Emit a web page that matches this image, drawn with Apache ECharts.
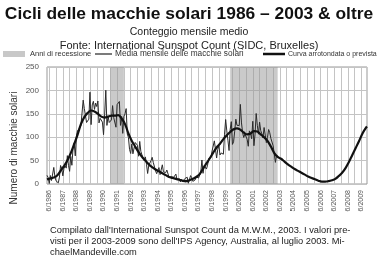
<!DOCTYPE html>
<html>
<head>
<meta charset="utf-8">
<script src="https://cdn.jsdelivr.net/npm/echarts@6/dist/echarts.min.js"></script>
<style>html,body{margin:0;padding:0;background:#fff}#c{width:378px;height:260px}</style>
</head>
<body>
<div id="c"></div>
<script>
// ---- Data ----
var startYear = 1986, startMonth = 4, endYear = 2009, endMonth = 11;
var tickLabels = ['6/1986','6/1987','6/1988','6/1989','6/1990','6/1991','6/1992','6/1993','6/1994','6/1995','6/1996','6/1997','6/1998','6/1999','6/2000','6/2001','6/2002','6/2003','5/2004','6/2005','6/2006','6/2007','6/2008','6/2009'];
var yTicks = [0, 50, 100, 150, 200, 250];
// Monthly mean sunspot number, from 1986-04 to 2003-05
var monthlyValues = [
  18.5, 13.7, 1.1, 18.1, 7.4, 3.8, 35.4, 15.2, 6.8,
  10.4, 2.4, 14.7, 39.6, 33.0, 17.4, 33.0, 38.7, 33.9, 60.6, 39.9, 27.1,
  59.0, 40.0, 76.2, 88.0, 60.1, 101.8, 113.8, 111.6, 120.1, 125.1, 125.1, 179.2,
  161.3, 165.0, 131.4, 130.6, 138.5, 196.2, 126.9, 168.9, 176.7, 159.4, 173.0, 165.5,
  177.3, 130.5, 140.3, 140.3, 132.2, 105.4, 149.4, 200.3, 125.2, 145.5, 131.4, 129.7,
  136.9, 167.5, 141.9, 140.0, 121.3, 169.7, 173.7, 176.3, 125.3, 144.1, 108.2, 144.4,
  150.0, 161.1, 106.7, 99.8, 73.8, 65.2, 85.7, 64.5, 63.9, 88.7, 91.8, 82.6,
  59.3, 91.0, 69.8, 62.2, 61.3, 49.8, 57.9, 42.1, 22.5, 39.8, 37.7, 50.0,
  57.0, 46.0, 44.0, 28.0, 22.0, 26.0, 35.0, 20.0, 22.0, 41.0, 26.0, 26.0,
  24.2, 29.9, 31.1, 14.0, 14.5, 15.6, 14.5, 14.3, 11.8, 21.1, 9.0, 10.0,
  11.5, 4.4, 9.2, 4.8, 5.5, 11.8, 8.2, 14.4, 1.6, 0.9, 17.9, 13.3,
  5.7, 7.6, 8.7, 15.5, 18.5, 12.7, 10.4, 24.4, 51.3, 22.8, 39.0, 41.2,
  31.9, 40.3, 54.8, 53.4, 56.3, 70.7, 66.6, 92.2, 92.2, 55.5, 74.0, 81.9,
  62.0, 66.3, 68.8, 63.7, 106.4, 137.7, 113.5, 93.7, 71.5, 116.7, 133.2, 84.6,
  90.1, 112.9, 138.5, 125.5, 121.6, 124.9, 170.1, 130.5, 109.7, 99.4, 106.8, 104.4,
  95.6, 80.6, 113.5, 107.7, 96.6, 134.0, 81.8, 106.4, 150.7, 125.5, 106.5, 132.2,
  114.1, 107.4, 98.4, 120.7, 120.8, 88.3, 99.6, 116.4, 109.6, 97.5, 95.0, 81.6,
  79.5, 46.2, 61.5, 60.0, 55.2
];
// Smoothed / predicted curve
var smoothMonths = ['1986-04','1986-07','1986-10','1987-01','1987-04','1987-07','1987-10','1988-01','1988-04','1988-07','1988-10','1989-01','1989-04','1989-07','1989-10','1990-01','1990-04','1990-07','1990-10','1991-01','1991-04','1991-07','1991-10','1992-01','1992-04','1992-07','1992-10','1993-01','1993-04','1993-07','1993-10','1994-01','1994-04','1994-07','1994-10','1995-01','1995-04','1995-07','1995-10','1996-01','1996-04','1996-07','1996-10','1997-01','1997-04','1997-07','1997-10','1998-01','1998-04','1998-07','1998-10','1999-01','1999-04','1999-07','1999-10','2000-01','2000-04','2000-07','2000-10','2001-01','2001-04','2001-07','2001-10','2002-01','2002-04','2002-07','2002-10','2003-01','2003-04','2003-07','2003-10','2004-01','2004-04','2004-07','2004-10','2005-01','2005-04','2005-07','2005-10','2006-01','2006-04','2006-07','2006-10','2007-01','2007-04','2007-07','2007-10','2008-01','2008-04','2008-07','2008-10','2009-01','2009-04','2009-07','2009-10','2009-11'];
var smoothValues = [10,12,14,18,28,38,50,66,85,105,128,143,152,157,155,150,144,142,144,146,146,147,140,128,108,92,80,68,58,50,42,36,31,27,23,19,15,13,11,9,7,6,8,11,15,21,33,44,55,67,78,86,96,104,111,117,119,116,110,106,108,113,112,106,100,92,80,66,58,54,48,42,37,32,28,24,20,16,13,10,7,5,5,6,8,11,17,24,34,47,62,77,92,108,120,123];
// Recession periods
var recessions = [['1990-12','1991-12'], ['1999-10','2003-04']];

// ---- Build ----
function pad(n){return n<10?'0'+n:''+n;}
var months = [];
for (var y = startYear, m = startMonth; y < endYear || (y === endYear && m <= endMonth); ) {
  months.push(y + '-' + pad(m));
  m++; if (m > 12) { m = 1; y++; }
}
var monthlyData = monthlyValues.map(function(v, i){ return [months[i], v]; });
var smoothData = smoothMonths.map(function(mm, i){ return [mm, smoothValues[i]]; });
var labelMap = {};
tickLabels.forEach(function(t, i){ labelMap[(startYear + i) + '-06'] = t; });

var chart = echarts.init(document.getElementById('c'), null, {renderer: 'canvas'});
var font = 'Liberation Sans';
chart.setOption({
  animation: false,
  backgroundColor: '#fff',
  title: [
    {text: 'Cicli delle macchie solari 1986 – 2003 & oltre', left: 'center', top: 1,
     textStyle: {fontFamily: font, fontSize: 17.4, fontWeight: 'bold', color: '#111'}},
    {text: 'Conteggio mensile medio', left: 'center', top: 22,
     textStyle: {fontFamily: font, fontSize: 10.5, fontWeight: 'normal', color: '#222'}},
    {text: 'Fonte: International Sunspot Count (SIDC, Bruxelles)', left: 'center', top: 35,
     textStyle: {fontFamily: font, fontSize: 11, fontWeight: 'normal', color: '#222'}}
  ],
  grid: {left: 47, right: 11, top: 67, bottom: 76, show: true, borderColor: '#999', borderWidth: 1, backgroundColor: '#fff'},
  xAxis: {
    type: 'category', data: months, boundaryGap: false,
    axisLine: {show: false}, axisTick: {show: false},
    axisLabel: {
      interval: function(i, v){ return v.slice(5) === '06'; },
      rotate: 90, fontSize: 7, color: '#555', fontFamily: font, margin: 6,
      formatter: function(v){ return labelMap[v] || ''; }
    },
    splitLine: {show: true, interval: function(i, v){ var mm = v.slice(5); return mm === '06' || mm === '12'; },
      lineStyle: {color: '#c4c4c4', width: 1}}
  },
  yAxis: {
    type: 'value', min: yTicks[0], max: yTicks[yTicks.length-1], interval: 50,
    axisLine: {show: false}, axisTick: {show: false},
    axisLabel: {fontSize: 8, color: '#555', fontFamily: font, margin: 8},
    splitLine: {show: true, lineStyle: {color: '#c4c4c4', width: 1}}
  },
  series: [
    {name: 'Anni di recessione', type: 'line', data: [], silent: true,
     markArea: {silent: true, itemStyle: {color: 'rgba(150,150,150,0.5)'},
       data: recessions.map(function(r){ return [{xAxis: r[0]}, {xAxis: r[1]}]; })}},
    {name: 'Media mensile delle macchie solari', type: 'line', data: monthlyData, symbol: 'none',
     lineStyle: {color: '#2a2a2a', width: 1}, z: 3},
    {name: 'Curva arrotondata o prevista', type: 'line', data: smoothData, symbol: 'none', smooth: 0.4,
     lineStyle: {color: '#111', width: 2.2}, z: 4}
  ],
  graphic: [
    {type: 'rect', shape: {x: 3, y: 51, width: 22, height: 6}, style: {fill: '#c8c8c8'}},
    {type: 'text', x: 30, y: 54, style: {text: 'Anni di recessione', fontFamily: font, fontSize: 7.5, fill: '#333', verticalAlign: 'middle'}},
    {type: 'line', shape: {x1: 95, y1: 54, x2: 112, y2: 54}, style: {stroke: '#222', lineWidth: 1.2}},
    {type: 'text', x: 115, y: 54, style: {text: 'Media mensile delle macchie solari', fontFamily: font, fontSize: 8.3, fill: '#333', verticalAlign: 'middle'}},
    {type: 'line', shape: {x1: 263, y1: 54, x2: 285, y2: 54}, style: {stroke: '#111', lineWidth: 2.5}},
    {type: 'text', x: 288, y: 54, style: {text: 'Curva arrotondata o prevista', fontFamily: font, fontSize: 7, fill: '#333', verticalAlign: 'middle'}},
    {type: 'text', x: 14, y: 148, rotation: Math.PI/2, style: {text: 'Numero di macchie solari', fontFamily: font, fontSize: 10, fill: '#333', align: 'center', verticalAlign: 'middle'}},
    {type: 'text', x: 50, y: 225, style: {text: "Compilato dall'International Sunspot Count da M.W.M., 2003. I valori pre-\nvisti per il 2003-2009 sono dell'IPS Agency, Australia, al luglio 2003. Mi-\nchaelMandeville.com", fontFamily: font, fontSize: 9.3, lineHeight: 11, fill: '#222'}}
  ]
});
</script>
</body>
</html>
